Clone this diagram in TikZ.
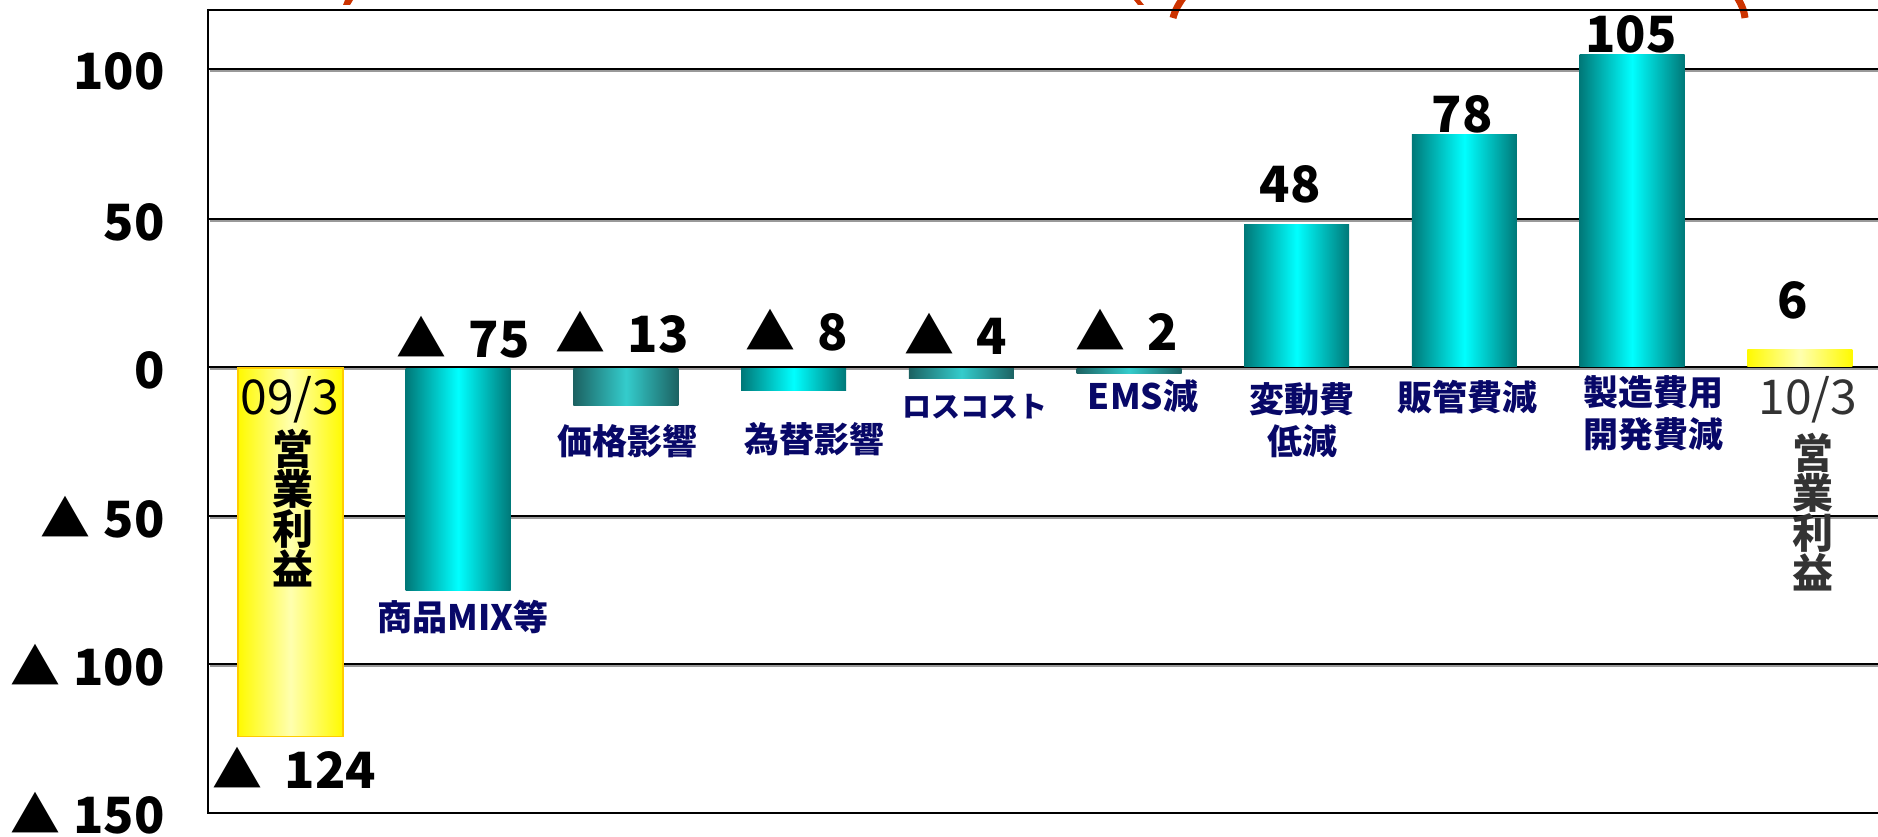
\documentclass[tikz,border=0pt]{standalone}
\usepackage{fontspec}
\setmainfont{Noto Sans CJK JP}
\definecolor{navy}{RGB}{8,8,104}
\definecolor{tealdark}{RGB}{0,120,120}
\definecolor{cyanlight}{RGB}{0,255,255}
\definecolor{mutedark}{RGB}{28,98,98}
\definecolor{mutelight}{RGB}{52,204,204}
\definecolor{yelledge}{RGB}{255,250,0}
\definecolor{yellmid}{RGB}{255,255,175}
\definecolor{yellborder}{RGB}{255,204,0}
\definecolor{darkgraytext}{RGB}{51,51,51}
\definecolor{bracketred}{RGB}{204,51,0}
\newcommand{\tri}{▲\hspace{22pt}}
\newcommand{\atri}{▲\hspace{13pt}}
\tikzset{
  gridline/.style={draw=black,line width=2.4pt},
  gridshadow/.style={draw=black!40,line width=2pt},
  tealbar/.style={left color=tealdark,right color=tealdark,middle color=cyanlight},
  mutebar/.style={left color=mutedark,right color=mutedark,middle color=mutelight},
  yellbar/.style={left color=yelledge,right color=yelledge,middle color=yellmid},
  axislabel/.style={font=\fontsize{50}{50}\selectfont\bfseries,inner sep=0pt,anchor=base east},
  vallabel/.style={font=\fontsize{50}{50}\selectfont\bfseries,inner sep=0pt,anchor=base},
  catlabel/.style={font=\fontsize{35}{42}\selectfont\bfseries,text=navy,inner sep=0pt,align=center},
  datelabel/.style={font=\fontsize{48}{48}\selectfont,inner sep=0pt},
  vertlabel/.style={font=\fontsize{41}{40}\selectfont\bfseries,inner sep=0pt,align=center},
  redstroke/.style={draw=bracketred,line width=7pt}
}
\begin{document}
\begin{tikzpicture}[x=1pt,y=-1pt]
\useasboundingbox (0,0) rectangle (1878,837);
% red bracket fragments at the top
\draw[redstroke] (1186,-6) .. controls (1179,3) and (1175,10) .. (1173,18);
\draw[redstroke] (1735,-6) .. controls (1741,3) and (1744,10) .. (1745,18);
\fill[bracketred] (345,0) -- (353,0) -- (350,5) -- (343,5) -- cycle;
\fill[bracketred] (1134,0) -- (1140,0) -- (1144,5) -- (1138,5) -- cycle;
% grid
\foreach \yy in {69,219,367,516,664} {
  \draw[gridshadow] (210,\yy+2.4) -- (1878,\yy+2.4);
  \draw[gridline] (208,\yy) -- (1878,\yy);
}
\draw[gridline] (208,10) -- (1878,10);
\draw[gridline] (208,813) -- (1878,813);
\draw[gridline] (208,9) -- (208,814);
% bars
\shade[yellbar] (238,367) rectangle (343,736.5);
\draw[yellborder,line width=1.5pt] (238,368) rectangle (343,736.5);
\shade[tealbar] (405.7,368) rectangle (510.7,590.5);
\shade[mutebar] (573.4,368) rectangle (678.4,405.7);
\shade[tealbar] (741.1,368) rectangle (846.1,390.8);
\shade[mutebar] (908.8,368) rectangle (1013.8,378.9);
\shade[mutebar] (1076.5,368) rectangle (1181.5,373);
\shade[tealbar] (1244.2,366) rectangle (1349.2,224);
\shade[tealbar] (1411.9,366) rectangle (1516.9,134.6);
\shade[tealbar] (1579.6,366) rectangle (1684.6,54.1);
\shade[yellbar] (1747.3,366) rectangle (1852.3,349.1);
% axis labels
\node[axislabel] (a100) at (165,90) {100};
\node[axislabel] (a50) at (165,240) {50};
\node[axislabel] (a0) at (165,388) {0};
\node[axislabel] (am50) at (165,537) {\atri 50};
\node[axislabel] (am100) at (165,685) {\atri 100};
\node[axislabel] (am150) at (165,833) {\atri 150};
% value labels
\node[vallabel] (v0) at (294.5,788) {\tri 124};
\node[vallabel] (v1) at (463,357) {\tri 75};
\node[vallabel] (v2) at (622,352) {\tri 13};
\node[vallabel] (v3) at (797,350) {\tri 8};
\node[vallabel] (v4) at (956,354) {\tri 4};
\node[vallabel] (v5) at (1127,350) {\tri 2};
\node[vallabel] (v6) at (1290,202) {48};
\node[vallabel] (v7) at (1462,133) {78};
\node[vallabel] (v8) at (1631,53) {105};
\node[vallabel] (v9) at (1793,318) {6};
% category labels
\node[catlabel] (c1) at (463,617) {商品MIX等};
\node[catlabel] (c2) at (627,441) {価格影響};
\node[catlabel] (c3) at (814,439) {為替影響};
\node[catlabel,font=\fontsize{29}{30}\selectfont\bfseries] (c4) at (975,407) {ロスコスト};
\node[catlabel] (c5) at (1143,396) {EMS減};
\node[catlabel] (c6) at (1302,420) {変動費\\低減};
\node[catlabel] (c7) at (1467,397) {販管費減};
\node[catlabel] (c8) at (1653,413) {製造費用\\開発費減};
% start / end labels
\node[datelabel] (d0) at (290,400) {09/3};
\node[vertlabel] (e0) at (293,508) {営\\業\\利\\益};
\node[datelabel,text=darkgraytext] (d9) at (1808,400) {10/3};
\node[vertlabel,text=darkgraytext] (e9) at (1813,512) {営\\業\\利\\益};
\end{tikzpicture}
\end{document}
